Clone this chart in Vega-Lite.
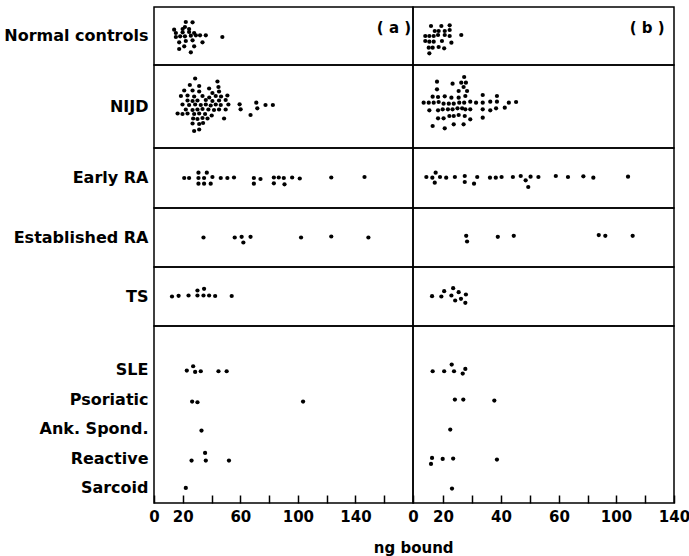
{
"$schema": "https://vega.github.io/schema/vega-lite/v6.json",
"padding": {"left": 3, "top": 6, "right": 3, "bottom": 3},
"background": "white",
"title": {"text": "ng bound", "orient": "bottom", "anchor": "middle", "fontSize": 15, "fontWeight": "bold", "font": "DejaVu Sans", "color": "black", "dx": 67, "offset": 16},
"config": {
  "view": {"stroke": "black", "strokeWidth": 1.5},
  "font": "DejaVu Sans",
  "axis": {"labelFont": "DejaVu Sans", "labelFontWeight": "bold", "labelColor": "black", "grid": false},
  "axisY": {"ticks": false, "domain": false, "labelFontSize": 16, "labelPadding": 6, "minExtent": 147, "maxExtent": 147, "labelLimit": 300},
  "axisX": {"tickSize": -8, "domain": false, "labelPadding": 14, "labelFontSize": 15, "tickColor": "black", "tickWidth": 1.5, "labelFlush": false, "labelOverlap": false}
},
"datasets": {
"a": [
{"c":1,"g":"Normal controls","x":22.1,"dy":-14},{"c":1,"g":"Normal controls","x":26.8,"dy":-13.7},{"c":1,"g":"Normal controls","x":21.5,"dy":-9},{"c":1,"g":"Normal controls","x":14.0,"dy":-6.3},{"c":1,"g":"Normal controls","x":19.9,"dy":-7},{"c":1,"g":"Normal controls","x":24.4,"dy":-7},{"c":1,"g":"Normal controls","x":15.2,"dy":-3},{"c":1,"g":"Normal controls","x":19.9,"dy":-3.7},{"c":1,"g":"Normal controls","x":24.4,"dy":-4},{"c":1,"g":"Normal controls","x":27.9,"dy":-3},{"c":1,"g":"Normal controls","x":15.2,"dy":1},{"c":1,"g":"Normal controls","x":18.2,"dy":0.3},{"c":1,"g":"Normal controls","x":21.5,"dy":0.3},{"c":1,"g":"Normal controls","x":25.6,"dy":-0.3},{"c":1,"g":"Normal controls","x":29.1,"dy":-0.7},{"c":1,"g":"Normal controls","x":32.0,"dy":-0.7},{"c":1,"g":"Normal controls","x":36.0,"dy":-0.7},{"c":1,"g":"Normal controls","x":17.5,"dy":6.3},{"c":1,"g":"Normal controls","x":22.1,"dy":5},{"c":1,"g":"Normal controls","x":26.8,"dy":4.3},{"c":1,"g":"Normal controls","x":33.7,"dy":6.3},{"c":1,"g":"Normal controls","x":21.0,"dy":10.3},{"c":1,"g":"Normal controls","x":27.9,"dy":10.3},{"c":1,"g":"Normal controls","x":17.5,"dy":13},{"c":1,"g":"Normal controls","x":25.6,"dy":16.3},{"c":1,"g":"Normal controls","x":47.5,"dy":1},
{"c":2,"g":"NIJD","x":28.6,"dy":-28},{"c":2,"g":"NIJD","x":44.1,"dy":-25},{"c":2,"g":"NIJD","x":24.9,"dy":-21.5},{"c":2,"g":"NIJD","x":31.4,"dy":-20.5},{"c":2,"g":"NIJD","x":38.3,"dy":-18},{"c":2,"g":"NIJD","x":44.8,"dy":-19.5},{"c":2,"g":"NIJD","x":21.0,"dy":-16},{"c":2,"g":"NIJD","x":26.8,"dy":-16},{"c":2,"g":"NIJD","x":31.4,"dy":-15},{"c":2,"g":"NIJD","x":40.6,"dy":-13.5},{"c":2,"g":"NIJD","x":45.2,"dy":-15},{"c":2,"g":"NIJD","x":18.7,"dy":-10.5},{"c":2,"g":"NIJD","x":23.3,"dy":-11},{"c":2,"g":"NIJD","x":27.9,"dy":-10},{"c":2,"g":"NIJD","x":33.7,"dy":-10.5},{"c":2,"g":"NIJD","x":38.4,"dy":-9},{"c":2,"g":"NIJD","x":42.9,"dy":-10.5},{"c":2,"g":"NIJD","x":46.6,"dy":-10},{"c":2,"g":"NIJD","x":51.0,"dy":-11},{"c":2,"g":"NIJD","x":23.3,"dy":-6},{"c":2,"g":"NIJD","x":26.8,"dy":-5.5},{"c":2,"g":"NIJD","x":30.2,"dy":-6},{"c":2,"g":"NIJD","x":36.0,"dy":-6.5},{"c":2,"g":"NIJD","x":40.6,"dy":-5.5},{"c":2,"g":"NIJD","x":45.2,"dy":-6},{"c":2,"g":"NIJD","x":49.8,"dy":-6.5},{"c":2,"g":"NIJD","x":19.8,"dy":-2},{"c":2,"g":"NIJD","x":24.4,"dy":-1.5},{"c":2,"g":"NIJD","x":28.6,"dy":-2},{"c":2,"g":"NIJD","x":32.5,"dy":-1.5},{"c":2,"g":"NIJD","x":36.0,"dy":-2},{"c":2,"g":"NIJD","x":39.4,"dy":-1},{"c":2,"g":"NIJD","x":42.9,"dy":-2},{"c":2,"g":"NIJD","x":46.4,"dy":-1.5},{"c":2,"g":"NIJD","x":51.7,"dy":-2},{"c":2,"g":"NIJD","x":22.1,"dy":3},{"c":2,"g":"NIJD","x":26.8,"dy":3.5},{"c":2,"g":"NIJD","x":30.2,"dy":3},{"c":2,"g":"NIJD","x":33.7,"dy":2.5},{"c":2,"g":"NIJD","x":37.8,"dy":3},{"c":2,"g":"NIJD","x":41.7,"dy":3.5},{"c":2,"g":"NIJD","x":45.2,"dy":3},{"c":2,"g":"NIJD","x":49.8,"dy":3},{"c":2,"g":"NIJD","x":16.4,"dy":7},{"c":2,"g":"NIJD","x":19.8,"dy":7.5},{"c":2,"g":"NIJD","x":23.3,"dy":7},{"c":2,"g":"NIJD","x":27.9,"dy":7.5},{"c":2,"g":"NIJD","x":31.4,"dy":7},{"c":2,"g":"NIJD","x":35.5,"dy":7.5},{"c":2,"g":"NIJD","x":40.1,"dy":9},{"c":2,"g":"NIJD","x":27.2,"dy":12},{"c":2,"g":"NIJD","x":30.2,"dy":12.5},{"c":2,"g":"NIJD","x":33.7,"dy":11.5},{"c":2,"g":"NIJD","x":37.2,"dy":12},{"c":2,"g":"NIJD","x":48.7,"dy":12},{"c":2,"g":"NIJD","x":26.8,"dy":17},{"c":2,"g":"NIJD","x":31.4,"dy":17.5},{"c":2,"g":"NIJD","x":34.1,"dy":16.5},{"c":2,"g":"NIJD","x":27.9,"dy":24.5},{"c":2,"g":"NIJD","x":31.4,"dy":23},{"c":2,"g":"NIJD","x":59.5,"dy":-2.2},{"c":2,"g":"NIJD","x":60.2,"dy":2.8},{"c":2,"g":"NIJD","x":67.1,"dy":8.5},{"c":2,"g":"NIJD","x":71.1,"dy":-3.8},{"c":2,"g":"NIJD","x":71.8,"dy":1.8},{"c":2,"g":"NIJD","x":77.5,"dy":-1.5},{"c":2,"g":"NIJD","x":82.6,"dy":-1.5},
{"c":3,"g":"Early RA","x":21.0,"dy":0},{"c":3,"g":"Early RA","x":24.4,"dy":0},{"c":3,"g":"Early RA","x":30.9,"dy":-5.3},{"c":3,"g":"Early RA","x":36.7,"dy":-5.3},{"c":3,"g":"Early RA","x":30.9,"dy":0},{"c":3,"g":"Early RA","x":34.8,"dy":0},{"c":3,"g":"Early RA","x":40.6,"dy":-1},{"c":3,"g":"Early RA","x":30.9,"dy":5.7},{"c":3,"g":"Early RA","x":34.8,"dy":5.7},{"c":3,"g":"Early RA","x":39.4,"dy":5.7},{"c":3,"g":"Early RA","x":46.4,"dy":0},{"c":3,"g":"Early RA","x":51.0,"dy":0},{"c":3,"g":"Early RA","x":55.6,"dy":-0.5},{"c":3,"g":"Early RA","x":69.4,"dy":0},{"c":3,"g":"Early RA","x":74.0,"dy":1},{"c":3,"g":"Early RA","x":69.4,"dy":5.7},{"c":3,"g":"Early RA","x":83.3,"dy":-0.5},{"c":3,"g":"Early RA","x":86.7,"dy":-0.5},{"c":3,"g":"Early RA","x":90.2,"dy":0},{"c":3,"g":"Early RA","x":83.3,"dy":5.3},{"c":3,"g":"Early RA","x":90.7,"dy":6.3},{"c":3,"g":"Early RA","x":96.0,"dy":-0.5},{"c":3,"g":"Early RA","x":101.3,"dy":0.5},{"c":3,"g":"Early RA","x":123.2,"dy":-0.5},{"c":3,"g":"Early RA","x":146.3,"dy":-1},
{"c":4,"g":"Established RA","x":34.4,"dy":0},{"c":4,"g":"Established RA","x":56.1,"dy":0},{"c":4,"g":"Established RA","x":60.9,"dy":-0.7},{"c":4,"g":"Established RA","x":62.1,"dy":5},{"c":4,"g":"Established RA","x":67.1,"dy":-0.7},{"c":4,"g":"Established RA","x":102.2,"dy":0},{"c":4,"g":"Established RA","x":123.2,"dy":-1},{"c":4,"g":"Established RA","x":149.0,"dy":0},
{"c":5,"g":"TS","x":12.5,"dy":0},{"c":5,"g":"TS","x":17.1,"dy":-0.7},{"c":5,"g":"TS","x":24.0,"dy":-1},{"c":5,"g":"TS","x":30.2,"dy":-6},{"c":5,"g":"TS","x":34.8,"dy":-7.7},{"c":5,"g":"TS","x":30.2,"dy":-1},{"c":5,"g":"TS","x":34.4,"dy":-1},{"c":5,"g":"TS","x":38.3,"dy":-1},{"c":5,"g":"TS","x":42.5,"dy":-0.5},{"c":5,"g":"TS","x":54.0,"dy":-0.5},
{"c":6,"g":"SLE","x":22.8,"dy":0.3},{"c":6,"g":"SLE","x":27.2,"dy":-4},{"c":6,"g":"SLE","x":28.6,"dy":1.7},{"c":6,"g":"SLE","x":32.5,"dy":1},{"c":6,"g":"SLE","x":44.8,"dy":1},{"c":6,"g":"SLE","x":50.5,"dy":1},{"c":6,"g":"Psoriatic","x":26.5,"dy":1.8},{"c":6,"g":"Psoriatic","x":30.2,"dy":2.5},{"c":6,"g":"Psoriatic","x":103.6,"dy":1.8},{"c":6,"g":"Ank. Spond.","x":33.0,"dy":1.3},{"c":6,"g":"Reactive","x":26.1,"dy":1.8},{"c":6,"g":"Reactive","x":35.5,"dy":-5.8},{"c":6,"g":"Reactive","x":36.0,"dy":1.8},{"c":6,"g":"Reactive","x":52.1,"dy":1.8},{"c":6,"g":"Sarcoid","x":22.1,"dy":-0.3}
],
"b": [
{"c":1,"g":"Normal controls","x":12.0,"dy":-10},{"c":1,"g":"Normal controls","x":18.9,"dy":-10},{"c":1,"g":"Normal controls","x":22.3,"dy":-10.7},{"c":1,"g":"Normal controls","x":14.5,"dy":-5},{"c":1,"g":"Normal controls","x":17.1,"dy":-5},{"c":1,"g":"Normal controls","x":20.6,"dy":-5},{"c":1,"g":"Normal controls","x":22.3,"dy":-6},{"c":1,"g":"Normal controls","x":8.2,"dy":0},{"c":1,"g":"Normal controls","x":10.9,"dy":0},{"c":1,"g":"Normal controls","x":13.8,"dy":0},{"c":1,"g":"Normal controls","x":16.7,"dy":-1},{"c":1,"g":"Normal controls","x":20.6,"dy":-1},{"c":1,"g":"Normal controls","x":22.3,"dy":0},{"c":1,"g":"Normal controls","x":26.3,"dy":-1},{"c":1,"g":"Normal controls","x":8.2,"dy":5},{"c":1,"g":"Normal controls","x":10.9,"dy":5.7},{"c":1,"g":"Normal controls","x":13.8,"dy":5.7},{"c":1,"g":"Normal controls","x":19.3,"dy":5},{"c":1,"g":"Normal controls","x":22.9,"dy":6.7},{"c":1,"g":"Normal controls","x":10.5,"dy":11.7},{"c":1,"g":"Normal controls","x":13.1,"dy":11.7},{"c":1,"g":"Normal controls","x":17.1,"dy":11},{"c":1,"g":"Normal controls","x":20.4,"dy":12.3},{"c":1,"g":"Normal controls","x":10.9,"dy":17.3},
{"c":2,"g":"NIJD","x":27.3,"dy":-29.5},{"c":2,"g":"NIJD","x":16.0,"dy":-24.8},{"c":2,"g":"NIJD","x":23.3,"dy":-22.8},{"c":2,"g":"NIJD","x":26.3,"dy":-23.8},{"c":2,"g":"NIJD","x":27.9,"dy":-23.8},{"c":2,"g":"NIJD","x":16.0,"dy":-17.2},{"c":2,"g":"NIJD","x":25.4,"dy":-15.5},{"c":2,"g":"NIJD","x":27.1,"dy":-19.5},{"c":2,"g":"NIJD","x":28.3,"dy":-15.5},{"c":2,"g":"NIJD","x":13.1,"dy":-9.8},{"c":2,"g":"NIJD","x":16.7,"dy":-9.5},{"c":2,"g":"NIJD","x":20.6,"dy":-10.2},{"c":2,"g":"NIJD","x":22.9,"dy":-8.8},{"c":2,"g":"NIJD","x":25.4,"dy":-8.8},{"c":2,"g":"NIJD","x":27.7,"dy":-10.5},{"c":2,"g":"NIJD","x":33.7,"dy":-11.5},{"c":2,"g":"NIJD","x":38.6,"dy":-10.5},{"c":2,"g":"NIJD","x":7.1,"dy":-3.8},{"c":2,"g":"NIJD","x":10.5,"dy":-3.8},{"c":2,"g":"NIJD","x":13.8,"dy":-3.8},{"c":2,"g":"NIJD","x":17.1,"dy":-4.5},{"c":2,"g":"NIJD","x":20.2,"dy":-2.8},{"c":2,"g":"NIJD","x":22.0,"dy":-2.8},{"c":2,"g":"NIJD","x":23.7,"dy":-2.8},{"c":2,"g":"NIJD","x":25.6,"dy":-3.8},{"c":2,"g":"NIJD","x":27.3,"dy":-3.8},{"c":2,"g":"NIJD","x":29.4,"dy":-4.8},{"c":2,"g":"NIJD","x":31.4,"dy":-3.8},{"c":2,"g":"NIJD","x":33.7,"dy":-3.8},{"c":2,"g":"NIJD","x":36.3,"dy":-4.8},{"c":2,"g":"NIJD","x":38.6,"dy":-4.8},{"c":2,"g":"NIJD","x":42.7,"dy":-3.8},{"c":2,"g":"NIJD","x":45.2,"dy":-4.5},{"c":2,"g":"NIJD","x":10.9,"dy":3.8},{"c":2,"g":"NIJD","x":16.7,"dy":3.8},{"c":2,"g":"NIJD","x":19.8,"dy":2.8},{"c":2,"g":"NIJD","x":21.7,"dy":2.8},{"c":2,"g":"NIJD","x":23.3,"dy":2.8},{"c":2,"g":"NIJD","x":25.0,"dy":1.8},{"c":2,"g":"NIJD","x":26.6,"dy":1.8},{"c":2,"g":"NIJD","x":27.7,"dy":2.8},{"c":2,"g":"NIJD","x":29.4,"dy":2.8},{"c":2,"g":"NIJD","x":33.7,"dy":2.8},{"c":2,"g":"NIJD","x":36.3,"dy":3.8},{"c":2,"g":"NIJD","x":38.3,"dy":1.8},{"c":2,"g":"NIJD","x":41.3,"dy":1.2},{"c":2,"g":"NIJD","x":16.7,"dy":11.8},{"c":2,"g":"NIJD","x":20.2,"dy":11.8},{"c":2,"g":"NIJD","x":22.2,"dy":9.5},{"c":2,"g":"NIJD","x":23.7,"dy":9.5},{"c":2,"g":"NIJD","x":25.4,"dy":8.5},{"c":2,"g":"NIJD","x":27.5,"dy":9.5},{"c":2,"g":"NIJD","x":29.4,"dy":12.8},{"c":2,"g":"NIJD","x":33.7,"dy":11.2},{"c":2,"g":"NIJD","x":13.1,"dy":19.5},{"c":2,"g":"NIJD","x":20.6,"dy":21.8},{"c":2,"g":"NIJD","x":23.7,"dy":17.8},{"c":2,"g":"NIJD","x":27.1,"dy":17.8},
{"c":3,"g":"Early RA","x":8.9,"dy":-1},{"c":3,"g":"Early RA","x":12.9,"dy":-0.3},{"c":3,"g":"Early RA","x":15.1,"dy":-5.3},{"c":3,"g":"Early RA","x":14.5,"dy":4.7},{"c":3,"g":"Early RA","x":18.0,"dy":-1},{"c":3,"g":"Early RA","x":21.1,"dy":-0.3},{"c":3,"g":"Early RA","x":24.1,"dy":-1},{"c":3,"g":"Early RA","x":27.5,"dy":-2},{"c":3,"g":"Early RA","x":27.5,"dy":4},{"c":3,"g":"Early RA","x":30.7,"dy":5.7},{"c":3,"g":"Early RA","x":31.8,"dy":-1},{"c":3,"g":"Early RA","x":36.2,"dy":-0.3},{"c":3,"g":"Early RA","x":38.2,"dy":-0.3},{"c":3,"g":"Early RA","x":40.2,"dy":-1},{"c":3,"g":"Early RA","x":44.1,"dy":-1},{"c":3,"g":"Early RA","x":46.8,"dy":-2},{"c":3,"g":"Early RA","x":48.5,"dy":2.3},{"c":3,"g":"Early RA","x":49.4,"dy":9},{"c":3,"g":"Early RA","x":50.2,"dy":-1.3},{"c":3,"g":"Early RA","x":52.9,"dy":-1},{"c":3,"g":"Early RA","x":58.9,"dy":-2},{"c":3,"g":"Early RA","x":66.3,"dy":-1},{"c":3,"g":"Early RA","x":77.1,"dy":-1.7},{"c":3,"g":"Early RA","x":84.1,"dy":-0.3},{"c":3,"g":"Early RA","x":108.3,"dy":-1.3},
{"c":4,"g":"Established RA","x":28.0,"dy":-1.7},{"c":4,"g":"Established RA","x":28.3,"dy":4},{"c":4,"g":"Established RA","x":38.9,"dy":-0.7},{"c":4,"g":"Established RA","x":44.4,"dy":-1.7},{"c":4,"g":"Established RA","x":87.9,"dy":-2.4},{"c":4,"g":"Established RA","x":92.5,"dy":-1.7},{"c":4,"g":"Established RA","x":111.5,"dy":-1.7},
{"c":5,"g":"TS","x":12.7,"dy":-0.3},{"c":5,"g":"TS","x":18.9,"dy":0},{"c":5,"g":"TS","x":20.4,"dy":-5.3},{"c":5,"g":"TS","x":22.9,"dy":-1},{"c":5,"g":"TS","x":23.5,"dy":-8.3},{"c":5,"g":"TS","x":25.4,"dy":-4.3},{"c":5,"g":"TS","x":24.2,"dy":4},{"c":5,"g":"TS","x":26.2,"dy":2.3},{"c":5,"g":"TS","x":27.9,"dy":-2},{"c":5,"g":"TS","x":27.7,"dy":6.3},
{"c":6,"g":"SLE","x":13.1,"dy":1},{"c":6,"g":"SLE","x":20.4,"dy":1},{"c":6,"g":"SLE","x":23.0,"dy":-5.7},{"c":6,"g":"SLE","x":23.8,"dy":1},{"c":6,"g":"SLE","x":26.8,"dy":3.3},{"c":6,"g":"SLE","x":27.7,"dy":-1.3},{"c":6,"g":"Psoriatic","x":24.1,"dy":-0.2},{"c":6,"g":"Psoriatic","x":27.0,"dy":-0.2},{"c":6,"g":"Psoriatic","x":37.7,"dy":0.8},{"c":6,"g":"Ank. Spond.","x":22.5,"dy":0.3},{"c":6,"g":"Reactive","x":12.7,"dy":-0.8},{"c":6,"g":"Reactive","x":12.0,"dy":5.2},{"c":6,"g":"Reactive","x":19.8,"dy":0.2},{"c":6,"g":"Reactive","x":23.5,"dy":-0.2},{"c":6,"g":"Reactive","x":38.6,"dy":0.8},{"c":6,"g":"Sarcoid","x":23.1,"dy":0.3}
]
},
"columns": 2,
"spacing": 0,
"bounds": "flush",
"resolve": {"scale": {"yOffset": "independent"}},
"concat": [
 {"width": 259, "height": 58, "layer": [
  {"data": {"name": "a"}, "transform": [{"filter": "datum.c == 1"}], "mark": {"type": "circle", "size": 18, "color": "black", "opacity": 1},
   "encoding": {"x": {"field": "x", "type": "quantitative", "scale": {"domain": [0, 180], "nice": false, "zero": false}, "axis": null},
    "y": {"field": "g", "type": "nominal", "scale": {"type": "band", "paddingInner": 0, "paddingOuter": 0}, "axis": {"title": null}},
    "yOffset": {"field": "dy", "type": "quantitative", "scale": {"domain": [-29, 29], "range": [0, 58], "nice": false}}}},
  {"data": {"values": [{"t": "( a )", "x": 166.8, "g": "Normal controls", "dy": -8}]}, "mark": {"type": "text", "fontSize": 15, "font": "DejaVu Sans", "fontWeight": "bold", "color": "black"},
   "encoding": {"x": {"field": "x", "type": "quantitative"}, "y": {"field": "g", "type": "nominal"}, "yOffset": {"field": "dy", "type": "quantitative"}, "text": {"field": "t"}}}
 ]},
 {"width": 261, "height": 58, "layer": [
  {"data": {"name": "b"}, "transform": [{"filter": "datum.c == 1"}], "mark": {"type": "circle", "size": 18, "color": "black", "opacity": 1},
   "encoding": {"x": {"field": "x", "type": "quantitative", "scale": {"domain": [0, 20, 40, 60, 100, 140], "range": [0, 30, 88, 146, 203, 261], "nice": false, "zero": false}, "axis": null},
    "y": {"field": "g", "type": "nominal", "scale": {"type": "band", "paddingInner": 0, "paddingOuter": 0}, "axis": null},
    "yOffset": {"field": "dy", "type": "quantitative", "scale": {"domain": [-29, 29], "range": [0, 58], "nice": false}}}},
  {"data": {"values": [{"t": "( b )", "x": 121.5, "g": "Normal controls", "dy": -8}]}, "mark": {"type": "text", "fontSize": 15, "font": "DejaVu Sans", "fontWeight": "bold", "color": "black"},
   "encoding": {"x": {"field": "x", "type": "quantitative"}, "y": {"field": "g", "type": "nominal"}, "yOffset": {"field": "dy", "type": "quantitative"}, "text": {"field": "t"}}}
 ]},
 {"width": 259, "height": 83, "data": {"name": "a"}, "transform": [{"filter": "datum.c == 2"}], "mark": {"type": "circle", "size": 18, "color": "black", "opacity": 1},
  "encoding": {"x": {"field": "x", "type": "quantitative", "scale": {"domain": [0, 180], "nice": false, "zero": false}, "axis": null},
   "y": {"field": "g", "type": "nominal", "scale": {"type": "band", "paddingInner": 0, "paddingOuter": 0}, "axis": {"title": null}},
   "yOffset": {"field": "dy", "type": "quantitative", "scale": {"domain": [-41.5, 41.5], "range": [0, 83], "nice": false}}}},
 {"width": 261, "height": 83, "data": {"name": "b"}, "transform": [{"filter": "datum.c == 2"}], "mark": {"type": "circle", "size": 18, "color": "black", "opacity": 1},
  "encoding": {"x": {"field": "x", "type": "quantitative", "scale": {"domain": [0, 20, 40, 60, 100, 140], "range": [0, 30, 88, 146, 203, 261], "nice": false, "zero": false}, "axis": null},
   "y": {"field": "g", "type": "nominal", "scale": {"type": "band", "paddingInner": 0, "paddingOuter": 0}, "axis": null},
   "yOffset": {"field": "dy", "type": "quantitative", "scale": {"domain": [-41.5, 41.5], "range": [0, 83], "nice": false}}}},
 {"width": 259, "height": 60, "data": {"name": "a"}, "transform": [{"filter": "datum.c == 3"}], "mark": {"type": "circle", "size": 18, "color": "black", "opacity": 1},
  "encoding": {"x": {"field": "x", "type": "quantitative", "scale": {"domain": [0, 180], "nice": false, "zero": false}, "axis": null},
   "y": {"field": "g", "type": "nominal", "scale": {"type": "band", "paddingInner": 0, "paddingOuter": 0}, "axis": {"title": null}},
   "yOffset": {"field": "dy", "type": "quantitative", "scale": {"domain": [-30, 30], "range": [0, 60], "nice": false}}}},
 {"width": 261, "height": 60, "data": {"name": "b"}, "transform": [{"filter": "datum.c == 3"}], "mark": {"type": "circle", "size": 18, "color": "black", "opacity": 1},
  "encoding": {"x": {"field": "x", "type": "quantitative", "scale": {"domain": [0, 20, 40, 60, 100, 140], "range": [0, 30, 88, 146, 203, 261], "nice": false, "zero": false}, "axis": null},
   "y": {"field": "g", "type": "nominal", "scale": {"type": "band", "paddingInner": 0, "paddingOuter": 0}, "axis": null},
   "yOffset": {"field": "dy", "type": "quantitative", "scale": {"domain": [-30, 30], "range": [0, 60], "nice": false}}}},
 {"width": 259, "height": 59, "data": {"name": "a"}, "transform": [{"filter": "datum.c == 4"}], "mark": {"type": "circle", "size": 18, "color": "black", "opacity": 1},
  "encoding": {"x": {"field": "x", "type": "quantitative", "scale": {"domain": [0, 180], "nice": false, "zero": false}, "axis": null},
   "y": {"field": "g", "type": "nominal", "scale": {"type": "band", "paddingInner": 0, "paddingOuter": 0}, "axis": {"title": null}},
   "yOffset": {"field": "dy", "type": "quantitative", "scale": {"domain": [-29.5, 29.5], "range": [0, 59], "nice": false}}}},
 {"width": 261, "height": 59, "data": {"name": "b"}, "transform": [{"filter": "datum.c == 4"}], "mark": {"type": "circle", "size": 18, "color": "black", "opacity": 1},
  "encoding": {"x": {"field": "x", "type": "quantitative", "scale": {"domain": [0, 20, 40, 60, 100, 140], "range": [0, 30, 88, 146, 203, 261], "nice": false, "zero": false}, "axis": null},
   "y": {"field": "g", "type": "nominal", "scale": {"type": "band", "paddingInner": 0, "paddingOuter": 0}, "axis": null},
   "yOffset": {"field": "dy", "type": "quantitative", "scale": {"domain": [-29.5, 29.5], "range": [0, 59], "nice": false}}}},
 {"width": 259, "height": 59, "data": {"name": "a"}, "transform": [{"filter": "datum.c == 5"}], "mark": {"type": "circle", "size": 18, "color": "black", "opacity": 1},
  "encoding": {"x": {"field": "x", "type": "quantitative", "scale": {"domain": [0, 180], "nice": false, "zero": false}, "axis": null},
   "y": {"field": "g", "type": "nominal", "scale": {"type": "band", "paddingInner": 0, "paddingOuter": 0}, "axis": {"title": null}},
   "yOffset": {"field": "dy", "type": "quantitative", "scale": {"domain": [-29.5, 29.5], "range": [0, 59], "nice": false}}}},
 {"width": 261, "height": 59, "data": {"name": "b"}, "transform": [{"filter": "datum.c == 5"}], "mark": {"type": "circle", "size": 18, "color": "black", "opacity": 1},
  "encoding": {"x": {"field": "x", "type": "quantitative", "scale": {"domain": [0, 20, 40, 60, 100, 140], "range": [0, 30, 88, 146, 203, 261], "nice": false, "zero": false}, "axis": null},
   "y": {"field": "g", "type": "nominal", "scale": {"type": "band", "paddingInner": 0, "paddingOuter": 0}, "axis": null},
   "yOffset": {"field": "dy", "type": "quantitative", "scale": {"domain": [-29.5, 29.5], "range": [0, 59], "nice": false}}}},
 {"width": 259, "height": 177, "data": {"name": "a"}, "transform": [{"filter": "datum.c == 6"}], "mark": {"type": "circle", "size": 18, "color": "black", "opacity": 1},
  "encoding": {"x": {"field": "x", "type": "quantitative", "scale": {"domain": [0, 180], "nice": false, "zero": false},
     "axis": {"title": null, "values": [0, 20, 40, 60, 80, 100, 120, 140, 160], "labelExpr": "indexof([0, 20, 60, 100, 140], datum.value) >= 0 ? datum.label : ''"}},
   "y": {"field": "g", "type": "nominal", "sort": ["SLE", "Psoriatic", "Ank. Spond.", "Reactive", "Sarcoid"], "scale": {"type": "band", "paddingInner": 0, "paddingOuter": 0.5, "align": 1}, "axis": {"title": null}},
   "yOffset": {"field": "dy", "type": "quantitative", "scale": {"domain": [-14.75, 14.75], "range": [0, 29.5], "nice": false}}}},
 {"width": 261, "height": 177, "data": {"name": "b"}, "transform": [{"filter": "datum.c == 6"}], "mark": {"type": "circle", "size": 18, "color": "black", "opacity": 1},
  "encoding": {"x": {"field": "x", "type": "quantitative", "scale": {"domain": [0, 20, 40, 60, 100, 140], "range": [0, 30, 88, 146, 203, 261], "nice": false, "zero": false},
     "axis": {"title": null, "values": [0, 20, 30, 40, 50, 60, 80, 100, 120, 140], "labelExpr": "indexof([0, 20, 40, 60, 100, 140], datum.value) >= 0 ? datum.label : ''"}},
   "y": {"field": "g", "type": "nominal", "sort": ["SLE", "Psoriatic", "Ank. Spond.", "Reactive", "Sarcoid"], "scale": {"type": "band", "paddingInner": 0, "paddingOuter": 0.5, "align": 1}, "axis": null},
   "yOffset": {"field": "dy", "type": "quantitative", "scale": {"domain": [-14.75, 14.75], "range": [0, 29.5], "nice": false}}}}
]
}
